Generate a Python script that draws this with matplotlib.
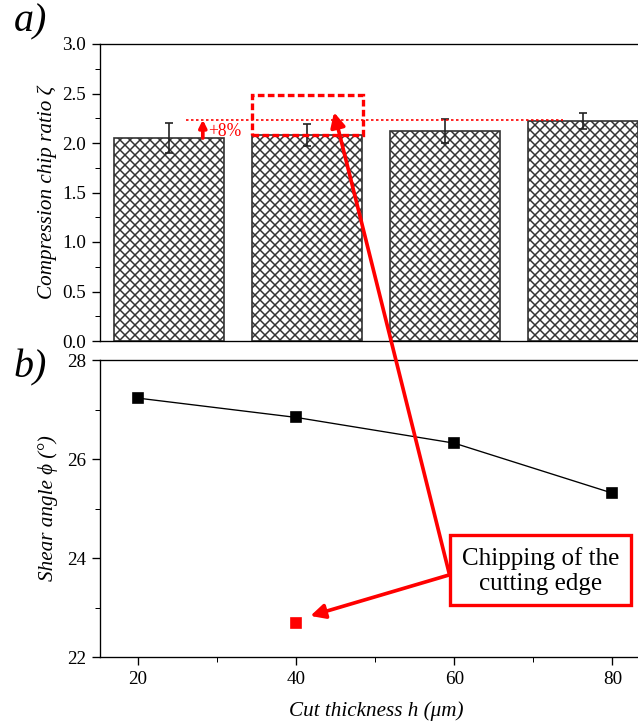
import matplotlib
matplotlib.use("Agg")
import matplotlib.pyplot as plt
from matplotlib.patches import Rectangle
from matplotlib.ticker import MultipleLocator

# ---- data ----
bar_labels = ["20", "40", "60", "80"]
chip_ratio = [2.05, 2.08, 2.12, 2.22]
chip_err = [0.15, 0.11, 0.125, 0.08]
thickness = [20, 40, 60, 80]
shear_angle = [27.23, 26.84, 26.32, 25.31]
chipped_x = [40]
chipped_shear = [22.69]

plt.rcParams['font.family'] = ['Liberation Serif', 'DejaVu Serif']
plt.rcParams['hatch.linewidth'] = 0.9

DPI = 120
fig = plt.figure(figsize=(638 / DPI, 724 / DPI), dpi=DPI)
L, W = 100 / 638, 552 / 638
ax1 = fig.add_axes([L, 1 - 341 / 724, W, 297 / 724])
ax2 = fig.add_axes([L, 1 - 657 / 724, W, 297 / 724])

FS = 11.5
LFS = 12.7
# ---- top panel ----
xs = list(range(len(chip_ratio)))
ax1.bar(xs, chip_ratio, width=0.8, color='white', edgecolor='#333333',
        hatch='xxxx', linewidth=1.0, zorder=2)
ax1.errorbar(xs, chip_ratio, yerr=chip_err, fmt='none', ecolor='#222222',
             elinewidth=1, capsize=2.2, capthick=1, zorder=3)
ax1.set_xlim(-0.5, 3.5)
ax1.set_ylim(0, 3.0)
ax1.yaxis.set_major_locator(MultipleLocator(0.5))
ax1.yaxis.set_minor_locator(MultipleLocator(0.25))
ax1.yaxis.set_major_formatter(matplotlib.ticker.FormatStrFormatter('%.1f'))
ax1.set_xticks([])
ax1.tick_params(axis='y', which='both', direction='out', labelsize=FS)
ax1.tick_params(axis='y', which='major', length=5)
ax1.tick_params(axis='y', which='minor', length=3)
ax1.spines['right'].set_visible(False)
ax1.set_ylabel('Compression chip ratio ζ', fontsize=LFS, style='italic', labelpad=3)

# reference annotations in top panel
ref_level = 2.235
ax1.plot([0.123, 2.853], [ref_level, ref_level], color='red', ls=(0, (1.5, 1.5)),
         lw=1.0, zorder=4)
ax1.add_patch(Rectangle((0.601, chip_ratio[1]), 0.805, 2.48 - chip_ratio[1],
                        fill=False, edgecolor='red', lw=2.0, ls=(0, (2, 1)), zorder=4))
ax1.annotate('', xy=(0.245, ref_level), xytext=(0.245, chip_ratio[0]),
             arrowprops=dict(arrowstyle='-|>', color='red', lw=2.2, mutation_scale=9,
                             shrinkA=0, shrinkB=0), zorder=5)
ax1.text(0.285, 2.12, '+8%', color='red', fontsize=10.5, va='center', ha='left')

# ---- bottom panel ----
ax2.plot(thickness, shear_angle, color='black', lw=0.8, marker='s',
         markersize=6, markerfacecolor='black', zorder=3)
ax2.plot(chipped_x, chipped_shear, ls='none', marker='s', markersize=6,
         color='red', zorder=3)
ax2.set_xlim(15.2, 85.0)
ax2.set_ylim(22, 28)
ax2.xaxis.set_major_locator(MultipleLocator(20))
ax2.xaxis.set_minor_locator(MultipleLocator(10))
ax2.yaxis.set_major_locator(MultipleLocator(2))
ax2.yaxis.set_minor_locator(MultipleLocator(1))
ax2.tick_params(which='both', direction='out', labelsize=FS)
ax2.tick_params(which='major', length=5)
ax2.tick_params(which='minor', length=3)
ax2.spines['right'].set_visible(False)
ax2.set_ylabel('Shear angle ϕ (°)', fontsize=LFS, style='italic', labelpad=5)
ax2.set_xlabel('Cut thickness h (μm)', fontsize=LFS, style='italic', labelpad=8)

# text box + arrows
ax2.add_patch(Rectangle((59.5, 23.05), 22.9, 1.41, facecolor='white',
                        edgecolor='red', lw=2, zorder=6))
ax2.text(70.95, 23.74, 'Chipping of the\ncutting edge', fontsize=15, ha='center',
         va='center', linespacing=1.2, zorder=7)
ax2.annotate('', xy=(1.196, 2.31), xycoords=ax1.transData,
             xytext=(59.4, 23.66), textcoords=ax2.transData,
             arrowprops=dict(arrowstyle='-|>', color='red', lw=2.2, mutation_scale=18,
                             shrinkA=0, shrinkB=0), annotation_clip=False, zorder=5)
ax2.annotate('', xy=(41.8, 22.83), xytext=(59.4, 23.66),
             arrowprops=dict(arrowstyle='-|>', color='red', lw=2.2, mutation_scale=18,
                             shrinkA=0, shrinkB=0), zorder=5)

fig.text(14 / 638, 1 - 22 / 724, 'a)', fontsize=24, style='italic', va='center', ha='left')
fig.text(14 / 638, 1 - 368 / 724, 'b)', fontsize=24, style='italic', va='center', ha='left')

fig.savefig('out.png', dpi=DPI)
